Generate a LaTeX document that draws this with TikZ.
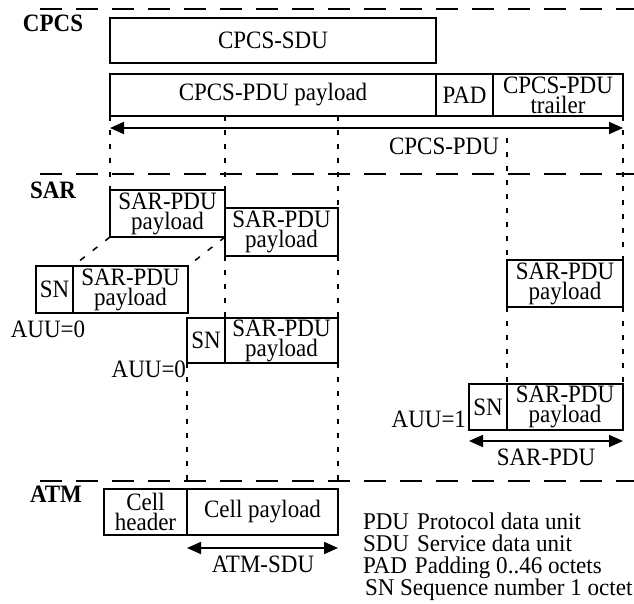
\documentclass[tikz,border=0pt]{standalone}
\usepackage{fontspec}
\setmainfont{Liberation Serif}[FakeStretch=0.92]
\newfontfamily\legendfont{Liberation Serif}[FakeStretch=0.96]
\usetikzlibrary{arrows.meta}
\begin{document}
\begin{tikzpicture}[x=1pt,y=-1pt,
  every node/.style={font=\fontsize{25}{20}\selectfont, inner sep=0pt, outer sep=0pt},
  box/.style={draw, line width=1.8pt, align=center},
  layerline/.style={line width=1.8pt, dash pattern={on 22pt off 14pt}},
  guide/.style={line width=1.5pt, dash pattern={on 5pt off 9pt}},
  diag/.style={line width=1.5pt, dash pattern={on 6pt off 10pt}},
  dim/.style={line width=1.8pt, {Triangle[length=14pt,width=12pt]}-{Triangle[length=14pt,width=12pt]}},
  layer/.style={font=\bfseries\fontsize{25}{20}\selectfont, anchor=west},
  legend/.style={anchor=base west, font=\legendfont\fontsize{24}{20}\selectfont},
]
\useasboundingbox (0,0) rectangle (634,604);

% layer separators
\coordinate (h1a) at (40,9);   \coordinate (h1b) at (634,9);
\coordinate (h2a) at (40,174); \coordinate (h2b) at (634,174);
\coordinate (h3a) at (40,481); \coordinate (h3b) at (634,481);
\draw[layerline] (h1a) -- (h1b);
\draw[layerline] (h2a) -- (h2b);
\draw[layerline] (h3a) -- (h3b);

\node[layer] (lcpcs) at (23,23.5) {CPCS};
\node[layer] (lsar) at (30,190) {SAR};
\node[layer] (latm) at (30,494) {ATM};

% CPCS
\node[box, minimum width=326pt, minimum height=45pt] (sdu) at (273,40.5) {CPCS-SDU};
\node[box, minimum width=326pt, minimum height=42pt] (pay) at (273,95) {CPCS-PDU payload};
\node[box, minimum width=57pt, minimum height=42pt] (pad) at (464.5,95) {PAD};
\node[box, minimum width=130pt, minimum height=42pt] (trl) at (558,95) {CPCS-PDU\\trailer};
\coordinate (ca1) at (110,128); \coordinate (ca2) at (623,128);
\draw[dim] (ca1) -- (ca2);
\node (cpdu) at (444,146) {CPCS-PDU};

% SAR
\node[box, minimum width=115pt, minimum height=47pt] (sar1) at (167.5,213.5) {SAR-PDU\\payload};
\node[box, minimum width=113pt, minimum height=48pt] (sar2) at (281.5,232) {SAR-PDU\\payload};
\node[box, minimum width=37pt, minimum height=47pt] (r1sn) at (54.5,289.5) {SN};
\node[box, minimum width=115pt, minimum height=47pt] (r1p) at (130.5,289.5) {SAR-PDU\\payload};
\node (auu0a) at (48,329) {AUU=0};
\node[box, minimum width=38pt, minimum height=45pt] (r2sn) at (206,340.5) {SN};
\node[box, minimum width=113pt, minimum height=45pt] (r2p) at (281.5,340.5) {SAR-PDU\\payload};
\node[anchor=east] (auu0b) at (186,369) {AUU=0};

\node[box, minimum width=116pt, minimum height=47pt] (rp) at (565,283.5) {SAR-PDU\\payload};
\node[box, minimum width=38pt, minimum height=46pt] (rsn) at (488,407) {SN};
\node[box, minimum width=116pt, minimum height=46pt] (rpay) at (565,407) {SAR-PDU\\payload};
\node[anchor=east] (auu1) at (466,419) {AUU=1};
\coordinate (sa1) at (469,441); \coordinate (sa2) at (623,441);
\draw[dim] (sa1) -- (sa2);
\node (spdu) at (546,457) {SAR-PDU};

% ATM
\node[box, minimum width=83pt, minimum height=46pt] (hdr) at (145.5,512) {Cell\\header};
\node[box, minimum width=151pt, minimum height=46pt] (cpay) at (262.5,512) {Cell payload};
\coordinate (aa1) at (187,548); \coordinate (aa2) at (338,548);
\draw[dim] (aa1) -- (aa2);
\node (asdu) at (263,564) {ATM-SDU};

% guides
\draw[guide] (pay.south west) -- (sar1.north west);
\draw[guide] (sar1.north east |- pay.south) -- (sar1.north east);
\draw[guide] (sar2.north east |- pay.south) -- (sar2.north east);
\draw[guide] (rp.north west |- cpdu.north) -- (rp.north west);
\draw[guide] (trl.south east) -- (rp.north east);
\draw[guide] (sar2.south west) -- (r2p.north west);
\draw[guide] (sar2.south east) -- (r2p.north east);
\draw[guide] (r2sn.south west) -- (cpay.north west);
\draw[guide] (r2p.south east) -- (cpay.north east);
\draw[guide] (rp.south west) -- (rpay.north west);
\draw[guide] (rp.south east) -- (rpay.north east);
\draw[diag] (sar1.south west) -- (r1p.north west);
\draw[diag] (sar1.south east) -- (r1p.north east);

% legend
\node[legend] (lg1) at (363,529) {PDU\hspace{8pt}Protocol data unit};
\node[legend] (lg2) at (363,551) {SDU\hspace{8pt}Service data unit};
\node[legend] (lg3) at (363,573) {PAD\hspace{8pt}Padding 0..46 octets};
\node[legend] (lg4) at (365,595) {SN Sequence number 1 octet};
\end{tikzpicture}
\end{document}
